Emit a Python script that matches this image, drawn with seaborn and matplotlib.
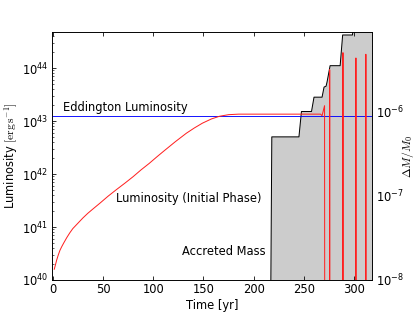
import numpy as np
import pandas as pd
import matplotlib
matplotlib.use('Agg')
import matplotlib.pyplot as plt
import seaborn as sns

# Luminosity curve (time in yr, log10 of L in erg/s); spikes at the end drop below the axis
lum_time = [1.5, 2.5, 4, 5.5, 7.2, 9, 11, 14, 17, 20, 24, 30, 35, 40, 47, 55, 63, 72, 80,
            88, 96, 104, 111, 122, 133, 141, 149, 158, 166, 175, 185, 200, 240, 266.5,
            268, 270.5,
            270.7, 275.4, 275.6, 275.8, 288.6, 288.8, 289.0, 301.5, 301.7, 301.9,
            311.4, 311.6, 311.8]
lum_log = [40.20, 40.27, 40.38, 40.47, 40.56, 40.63, 40.70, 40.80, 40.89, 40.97, 41.05,
           41.17, 41.26, 41.34, 41.45, 41.58, 41.70, 41.83, 41.95, 42.08, 42.20, 42.33,
           42.44, 42.61, 42.77, 42.87, 42.96, 43.04, 43.09, 43.12, 43.13, 43.13, 43.13,
           43.13, 43.10, 43.29,
           38.0, 38.0, 43.97, 38.0, 38.0, 44.29, 38.0, 38.0, 44.19, 38.0,
           38.0, 44.26, 38.0]
lum_val = [10 ** v for v in lum_log]

# Accreted mass (Delta M / M0), step-like
mass_time = [216.5, 218, 245, 247.5, 257.5, 260, 268, 270, 272, 273, 276, 286, 288.5,
             298.3, 300, 320]
mass_val = [1e-9, 5.0e-7, 5.0e-7, 1.0e-6, 1.0e-6, 1.48e-6, 1.48e-6, 1.95e-6, 2.0e-6,
            2.25e-6, 3.5e-6, 3.5e-6, 8.1e-6, 8.1e-6, 1.5e-5, 1.5e-5]

eddington = 1.26e43

lum_df = pd.DataFrame({'time': lum_time, 'lum': lum_val})
mass_df = pd.DataFrame({'time': mass_time, 'mass': mass_val})

sns.set_style('ticks', {'xtick.direction': 'in', 'ytick.direction': 'in',
                        'axes.edgecolor': 'black', 'text.color': 'black',
                        'axes.labelcolor': 'black', 'xtick.color': 'black',
                        'ytick.color': 'black'})
plt.rcParams['font.family'] = ['DejaVu Sans']
plt.rcParams['mathtext.fontset'] = 'cm'
plt.rcParams['font.size'] = 11.5

fig = plt.figure(figsize=(415 / 72, 312 / 72), dpi=72)
ax = fig.add_axes([0.1246, 0.1026, 0.7725, 0.795])
ax2 = ax.twinx()

ax.set_yscale('log')
ax2.set_yscale('log')
ax.set_xlim(-1, 318)
ax.set_ylim(1e40, 4.8e44)
ax2.set_ylim(1e-8, 8.8e-6)

# mass underneath, luminosity on top
ax.set_zorder(ax2.get_zorder() + 1)
ax.patch.set_visible(False)

ax2.fill_between(mass_df['time'], 1e-12, mass_df['mass'], color='0.8', lw=0)
sns.lineplot(data=mass_df, x='time', y='mass', ax=ax2, color='black', lw=1,
             estimator=None, sort=False)

ax.axhline(eddington, color='blue', lw=0.9)
sns.lineplot(data=lum_df, x='time', y='lum', ax=ax, color='#ff2020', lw=1,
             estimator=None, sort=False)

ax.text(10.5, 1.78e43, 'Eddington Luminosity', va='center', ha='left')
ax.text(63.4, 3.5e41, 'Luminosity (Initial Phase)', va='center', ha='left')
ax.text(128.7, 3.5e40, 'Accreted Mass', va='center', ha='left')

ax.set_xticks([0, 50, 100, 150, 200, 250, 300])
ax.tick_params(which='both', direction='in', top=True, right=False)
ax.tick_params(which='major', length=4)
ax.tick_params(which='minor', length=2)
ax2.tick_params(which='both', direction='in')
ax2.tick_params(which='major', length=4)
ax2.tick_params(which='minor', length=2)

ax.set_xlabel('Time [yr]', labelpad=3)
ax.set_ylabel(r'Luminosity $[\mathrm{erg\,s^{-1}}]$', labelpad=2)
ax2.set_ylabel(r'$\Delta M/M_0$')
ax2.yaxis.set_label_coords(1.11, 0.5)
ax2.yaxis.label.set_va('center')
ax2.yaxis.label.set_ha('center')

fig.savefig('out.png', dpi=72)
